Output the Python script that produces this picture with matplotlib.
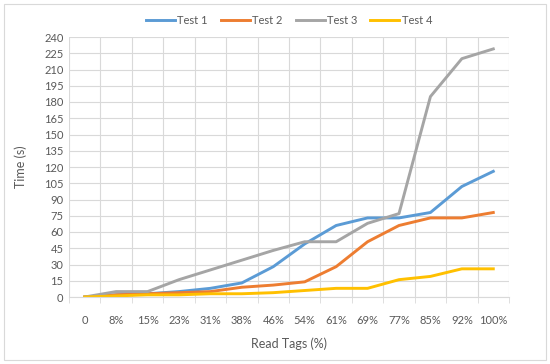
import matplotlib.pyplot as plt
from matplotlib.patches import Rectangle

categories = ['0', '8%', '15%', '23%', '31%', '38%', '46%', '54%', '61%', '69%', '77%', '85%', '92%', '100%']
test1 = [0, 2, 3, 5, 8, 13, 28, 49, 66, 73, 73, 78, 102, 116]
test2 = [0, 2, 3, 4, 5, 9, 11, 14, 28, 51, 66, 73, 73, 78]
test3 = [0, 5, 5, 16, 25, 34, 43, 51, 51, 68, 77, 185, 220, 229]
test4 = [0, 1, 2, 2, 3, 3, 4, 6, 8, 8, 16, 19, 26, 26]
series = [('Test 1', test1, '#5B9BD5'), ('Test 2', test2, '#ED7D31'),
          ('Test 3', test3, '#A5A5A5'), ('Test 4', test4, '#FFC000')]

plt.rcParams['font.family'] = ['Lato', 'DejaVu Sans']
txt = '#595959'

fig = plt.figure(figsize=(5.5, 3.64), dpi=100)
fig.patches.append(Rectangle((4 / 550, 4 / 364), 542 / 550, 356 / 364, transform=fig.transFigure,
                             fill=False, edgecolor='#d9d9d9', linewidth=0.8))
ax = fig.add_axes([69 / 550, 67 / 364, 440 / 550, 260 / 364])

x = list(range(len(categories)))
for name, vals, col in series:
    ax.plot(x, vals, color=col, linewidth=2.1, label=name, solid_joinstyle='round')

ax.set_xlim(-0.5, len(categories) - 0.5)
ax.set_ylim(0, 240)
ax.set_yticks(range(0, 241, 15))
ax.set_xticks(x)
ax.set_xticklabels(categories)
ax.set_xticks([i - 0.5 for i in range(len(categories) + 1)], minor=True)

ax.grid(True, which='minor', axis='x', color='#d9d9d9', linewidth=0.8)
ax.grid(True, which='major', axis='y', color='#d9d9d9', linewidth=0.8)
ax.set_axisbelow(True)
for s in ['top', 'right', 'left']:
    ax.spines[s].set_visible(False)
ax.spines['bottom'].set_color('#d9d9d9')

ax.tick_params(axis='x', which='major', length=0, pad=13, labelsize=8, labelcolor=txt)
ax.tick_params(axis='x', which='minor', length=4, color='#d9d9d9')
ax.tick_params(axis='y', length=0, pad=4, labelsize=8, labelcolor=txt)

ax.set_xlabel('Read Tags (%)', fontsize=9, color=txt, labelpad=8)
ax.set_ylabel('Time (s)', fontsize=9, color=txt, labelpad=12)

ax.legend(loc='center', bbox_to_anchor=(0.5, 1.065), ncol=4, frameon=False,
          fontsize=8, labelcolor=txt, handlelength=2.6, handletextpad=0.2, columnspacing=1.2)

fig.savefig('out.png', dpi=100)
